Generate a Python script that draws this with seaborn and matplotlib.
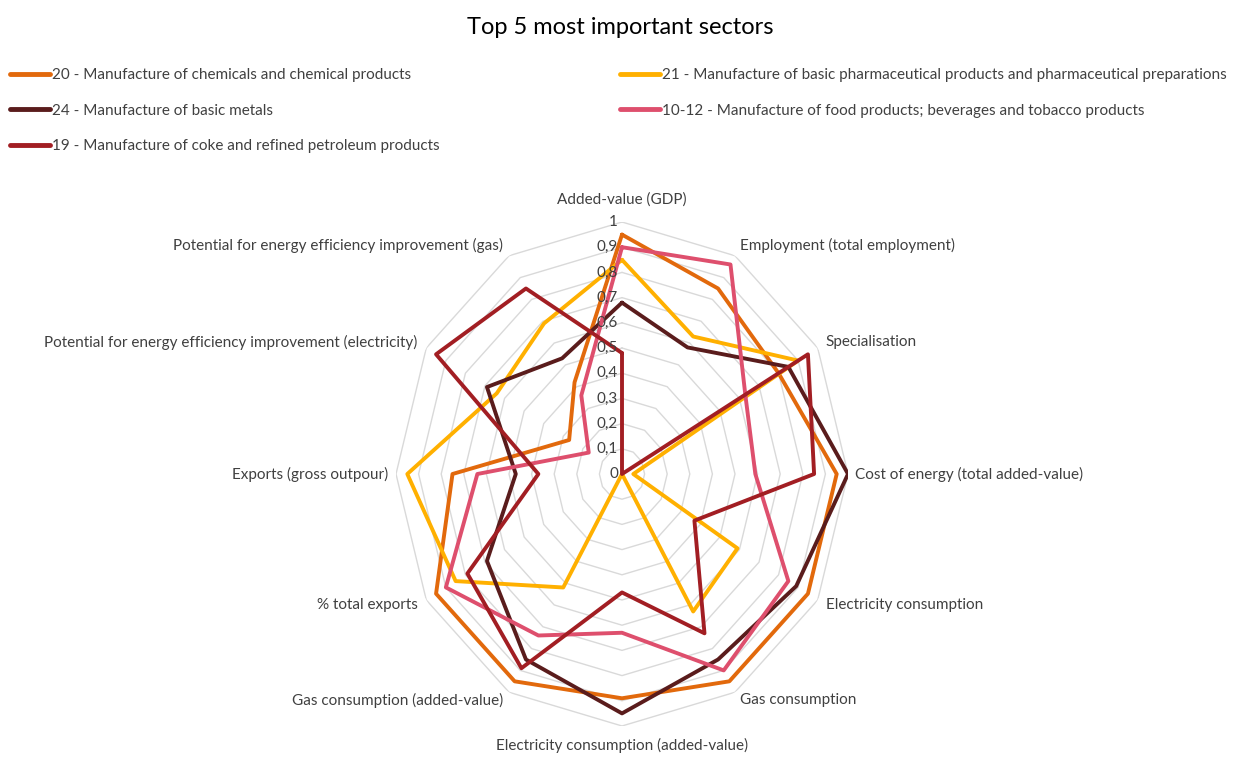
import numpy as np
import matplotlib
matplotlib.use("Agg")
import matplotlib.pyplot as plt
import seaborn as sns

# axes of the radar, clockwise from the top
categories = [
    "Added-value (GDP)",
    "Employment (total employment)",
    "Specialisation",
    "Cost of energy (total added-value)",
    "Electricity consumption",
    "Gas consumption",
    "Electricity consumption (added-value)",
    "Gas consumption (added-value)",
    "% total exports",
    "Exports (gross outpour)",
    "Potential for energy efficiency improvement (electricity)",
    "Potential for energy efficiency improvement (gas)",
]

chemicals = [0.95, 0.85, 0.80, 0.95, 0.95, 0.95, 0.89, 0.95, 0.95, 0.75, 0.27, 0.42]
pharma = [0.85, 0.63, 0.90, 0.05, 0.59, 0.63, 0.00, 0.52, 0.85, 0.95, 0.64, 0.69]
metals = [0.68, 0.58, 0.85, 1.00, 0.89, 0.85, 0.95, 0.85, 0.69, 0.47, 0.69, 0.53]
food = [0.90, 0.96, 0.63, 0.59, 0.85, 0.90, 0.63, 0.74, 0.90, 0.64, 0.17, 0.36]
coke = [0.48, 0.00, 0.95, 0.85, 0.37, 0.73, 0.47, 0.89, 0.79, 0.37, 0.95, 0.85]

series_names = [
    "20 - Manufacture of chemicals and chemical products",
    "21 - Manufacture of basic pharmaceutical products and pharmaceutical preparations",
    "24 - Manufacture of basic metals",
    "10-12 - Manufacture of food products; beverages and tobacco products",
    "19 - Manufacture of coke and refined petroleum products",
]
series_values = [chemicals, pharma, metals, food, coke]
series_colors = ["#E2690C", "#FFB000", "#5A1C1C", "#DE4F6D", "#A21E23"]

levels = [0.1, 0.2, 0.3, 0.4, 0.5, 0.6, 0.7, 0.8, 0.9, 1.0]
level_labels = ["0", "0,1", "0,2", "0,3", "0,4", "0,5", "0,6", "0,7", "0,8", "0,9", "1"]

sns.set_theme(style="white")
plt.rcParams["font.family"] = ["Lato", "DejaVu Sans"]
text_col = "#404040"
fs = 11

fig = plt.figure(figsize=(12.4, 7.58), dpi=100)
W, H = 1240, 758
cx, cy, rx, ry = 622, 474, 226, 252
ax = fig.add_axes([(cx - rx) / W, (H - cy - ry) / H, 2 * rx / W, 2 * ry / H],
                  projection="polar")
ax.set_aspect("auto")
ax.set_theta_zero_location("N")
ax.set_theta_direction(-1)
ax.set_ylim(0, 1)
ax.grid(False)
ax.set_xticks([])
ax.set_yticks([])
ax.spines["polar"].set_visible(False)
ax.set_facecolor("none")

n = len(categories)
angles = np.linspace(0, 2 * np.pi, n, endpoint=False)
closed = np.append(angles, angles[0] + 2 * np.pi)

# polygon gridlines
for lv in levels:
    ax.plot(closed, [lv] * (n + 1), color="#d9d9d9", lw=1.0, zorder=1)

for name, vals, col in zip(series_names, series_values, series_colors):
    sns.lineplot(x=closed, y=vals + vals[:1], ax=ax, sort=False, color=col,
                 lw=2.8, label=name, legend=False, zorder=3)
ax.set_xlabel("")
ax.set_ylabel("")

# radial value labels along the top axis
for lv, lab in zip([0.0] + levels, level_labels):
    ax.annotate(lab, xy=(0, lv), xytext=(-4, 0), textcoords="offset pixels",
                ha="right", va="center", fontsize=fs, color=text_col, zorder=4)

# category labels
offsets = [(0, 22, "center"), (5, 10, "left"), (8, 6, "left"), (7, 0, "left"),
           (8, -5, "left"), (5, -8, "left"), (0, -19, "center"), (-6, -8, "right"),
           (-8, -5, "right"), (-8, 0, "right"), (-9, 6, "right"), (-6, 10, "right")]
for ang, lab, (dx, dy, ha) in zip(angles, categories, offsets):
    ax.annotate(lab, xy=(ang, 1.0), xytext=(dx, dy), textcoords="offset pixels",
                ha=ha, va="center", fontsize=fs, color=text_col)

fig.suptitle("Top 5 most important sectors", y=1 - 28 / H, va="center",
             fontsize=17, color="#000000")

handles = {name: plt.Line2D([], [], color=col, lw=3.5)
           for name, col in zip(series_names, series_colors)}
left_names = [series_names[0], series_names[2], series_names[4]]
right_names = [series_names[1], series_names[3]]
leg_kw = dict(frameon=False, fontsize=fs, handlelength=2.6, handletextpad=0.12,
              labelspacing=1.42, borderpad=0, borderaxespad=0, loc="upper left",
              labelcolor=text_col)
fig.legend([handles[k] for k in left_names], left_names,
           bbox_to_anchor=(10 / W, 1 - 68 / H), **leg_kw)
fig.legend([handles[k] for k in right_names], right_names,
           bbox_to_anchor=(620 / W, 1 - 68 / H), **leg_kw)

fig.savefig("out.png", dpi=100, facecolor="white")
